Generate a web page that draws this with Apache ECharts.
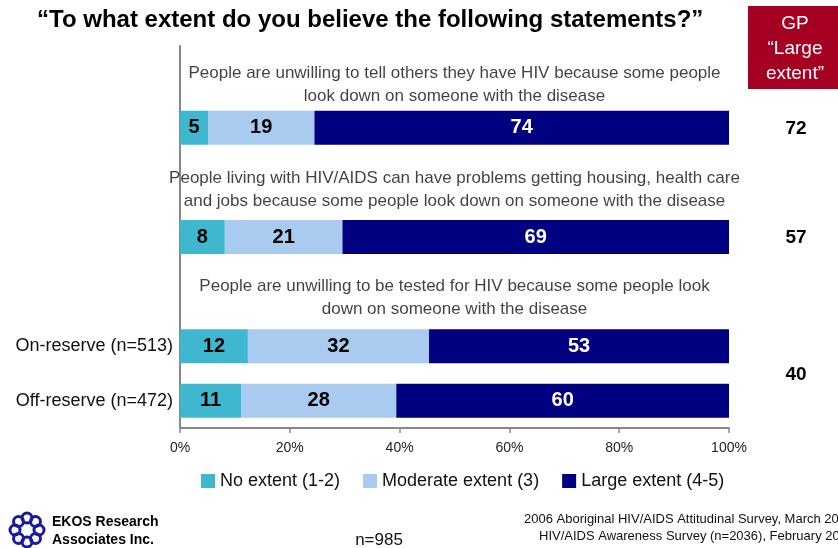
<!DOCTYPE html>
<html><head><meta charset="utf-8">
<script src="https://cdn.jsdelivr.net/npm/echarts@6/dist/echarts.min.js"></script>
<style>html,body{margin:0;padding:0;background:#fff}#c{width:838px;height:548px}</style>
</head><body><div id="c"></div>
<script>
var FONT = "'Liberation Sans',Arial,sans-serif";
// rows of the category axis (top to bottom); '' rows hold statement text
var rowLabels = ['', '', '', '', '', 'On-reserve (n=513)', 'Off-reserve (n=472)'];
var statements = [
  'People are unwilling to tell others they have HIV because some people\nlook down on someone with the disease',
  'People living with HIV/AIDS can have problems getting housing, health care\nand jobs because some people look down on someone with the disease',
  'People are unwilling to be tested for HIV because some people look\ndown on someone with the disease'
];
var statementRows = [0, 2, 4];
var barRows = [1, 3, 5, 6];
var noExtent = [5, 8, 12, 11];
var moderate = [19, 21, 32, 28];
var large = [74, 69, 53, 60];
var gpLarge = [72, 57, 40];
var gpRows = [[1], [3], [5, 6]];
var seriesNames = ['No extent (1-2)', 'Moderate extent (3)', 'Large extent (4-5)'];
var colors = ['#3FB8CF', '#A9CBEF', '#000080'];

// layout constants (label nudges for statement text)
var stOffsets = [[0, 12], [0, 7], [0, 6]];

var chart = echarts.init(document.getElementById('c'));
var raw = [noExtent, moderate, large];
function seriesData(k) {
  var arr = rowLabels.map(function () { return '-'; });
  barRows.forEach(function (r, i) {
    var tot = noExtent[i] + moderate[i] + large[i];
    arr[r] = { value: raw[k][i] / tot * 100, raw: raw[k][i] };
  });
  return arr;
}
var series = seriesNames.map(function (n, k) {
  return {
    name: n, type: 'bar', stack: 'a', barWidth: 34,
    itemStyle: { color: colors[k] },
    label: {
      show: true, position: 'inside', fontFamily: FONT, fontWeight: 'bold', fontSize: 20,
      color: k === 2 ? '#fff' : '#000',
      formatter: function (p) { return p.data.raw; }
    },
    data: seriesData(k)
  };
});
var stData = statementRows.map(function (r, i) {
  return { value: [50, r], text: statements[i], label: { offset: stOffsets[i] } };
});
series.push({
  type: 'scatter', symbolSize: 0, silent: true,
  label: { show: true, position: 'inside', fontFamily: FONT, fontSize: 17, lineHeight: 23, color: '#111',
    formatter: function (p) { return p.data.text; } },
  data: stData
});
chart.setOption({
  animation: false,
  grid: { left: 180, right: 109, top: 46, bottom: 120 },
  xAxis: {
    type: 'value', min: 0, max: 100, interval: 20,
    axisLine: { show: true, lineStyle: { color: '#888', width: 2 } },
    axisTick: { show: true, length: 5, lineStyle: { color: '#888', width: 1.5 } },
    splitLine: { show: false },
    axisLabel: { fontFamily: FONT, fontSize: 14, color: '#222', margin: 13,
      formatter: function (v) { return v + '%'; } }
  },
  yAxis: {
    type: 'category', inverse: true, data: rowLabels,
    axisLine: { show: true, lineStyle: { color: '#888', width: 2 } },
    axisTick: { show: false },
    axisLabel: { fontFamily: FONT, fontSize: 18, color: '#111', margin: 7 }
  },
  legend: {
    bottom: 53, left: 196, itemWidth: 14, itemHeight: 14, itemGap: 23, itemTextGap: 5, icon: 'rect',
    textStyle: { fontFamily: FONT, fontSize: 18, color: '#111' },
    data: seriesNames
  },
  series: series
});

var g = [];
// title
g.push({ type: 'text', left: 37, top: 8, style: { text: '\u201CTo what extent do you believe the following statements?\u201D', font: 'bold 24px ' + FONT, fill: '#000' } });
// GP box
g.push({ type: 'rect', shape: { x: 748, y: 6, width: 92, height: 83 }, style: { fill: '#A50021' } });
g.push({ type: 'text', x: 795, y: 49, style: { text: 'GP\n\u201CLarge\nextent\u201D', font: '19px ' + FONT, lineHeight: 25, fill: '#fff', align: 'center', verticalAlign: 'middle' } });
gpLarge.forEach(function (v, i) {
  var ys = gpRows[i].map(function (r) { return chart.convertToPixel({ yAxisIndex: 0 }, r); });
  var y = ys.reduce(function (a, b) { return a + b; }, 0) / ys.length + 1;
  g.push({ type: 'text', x: 796, y: y, style: { text: String(v), font: 'bold 19px ' + FONT, fill: '#000', align: 'center', verticalAlign: 'middle' } });
});
// logo
for (var i = 0; i < 8; i++) {
  var a = i / 8 * Math.PI * 2;
  g.push({ type: 'circle', shape: { cx: 27 + 12 * Math.cos(a), cy: 530 + 12 * Math.sin(a), r: 5 }, style: { fill: 'none', stroke: '#1a1aa0', lineWidth: 3 } });
}
g.push({ type: 'text', left: 52, top: 513, style: { text: 'EKOS Research\nAssociates Inc.', font: 'bold 14px ' + FONT, lineHeight: 18, fill: '#000' } });
g.push({ type: 'text', x: 379, y: 540, style: { text: 'n=985', font: '17px ' + FONT, fill: '#111', align: 'center', verticalAlign: 'middle' } });
g.push({ type: 'text', x: 524, y: 513, style: { text: '2006 Aboriginal HIV/AIDS Attitudinal Survey, March 2006', font: '13px ' + FONT, fill: '#111' } });
g.push({ type: 'text', x: 539, y: 530, style: { text: 'HIV/AIDS Awareness Survey (n=2036), February 2006', font: '13px ' + FONT, fill: '#111' } });
chart.setOption({ graphic: g });
</script></body></html>
